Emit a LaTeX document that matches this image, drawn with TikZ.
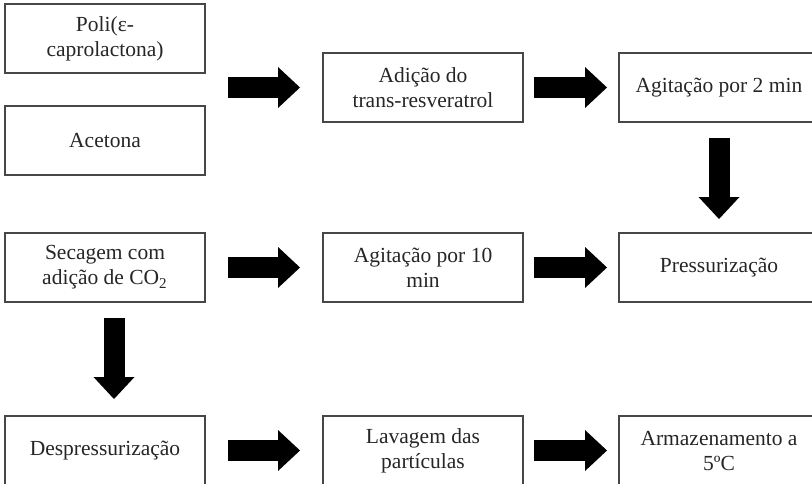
\documentclass[tikz,border=0pt]{standalone}
\usepackage{fontspec}
\setmainfont{Liberation Serif}
\usetikzlibrary{arrows.meta}
\tikzset{
  stepbox/.style={draw=black!72, line width=1pt, fill=white, minimum width=100pt, minimum height=34.5pt,
    inner sep=0pt, align=center, text=black!85, font=\fontsize{10.75pt}{12.5pt}\selectfont},
  blockarrow/.style={line width=10.5pt, black,
    -{Triangle[width=20.5pt,length=11pt,line width=0pt]}}
}
\begin{document}
\begin{tikzpicture}[x=0.5pt,y=-0.5pt]
\useasboundingbox (0,0) rectangle (812,483);
\fill[white] (0,0) rectangle (812,483);
\clip (0,0) rectangle (812,483);
% row 1
\node[stepbox] (poli) at (105,38.5) {Poli(ε-\\caprolactona)};
\node[stepbox] (acet) at (105,140.5) {Acetona};
\node[stepbox] (adic) at (423,87.5) {Adição do\\trans-resveratrol};
\node[stepbox] (ag2) at (719,87.5) {Agitação por 2 min};
% row 2
\node[stepbox] (sec) at (105,267.5) {Secagem com\\adição de CO\textsubscript{2}};
\node[stepbox] (ag10) at (423,267.5) {Agitação por 10\\min};
\node[stepbox] (press) at (719,267.5) {Pressurização};
% row 3
\node[stepbox] (desp) at (105,450.5) {Despressurização};
\node[stepbox] (lav) at (423,450.5) {Lavagem das\\partículas};
\node[stepbox] (arm) at (719,450.5) {Armazenamento a\\5ºC};
% arrows
\draw[blockarrow, shorten <=11pt, shorten >=11pt] (poli.east |- adic.west) -- (adic.west);
\draw[blockarrow, shorten <=5pt, shorten >=5.5pt] (adic) -- (ag2);
\draw[blockarrow, shorten <=7.5pt, shorten >=6.5pt] (ag2) -- (press);
\draw[blockarrow, shorten <=11pt, shorten >=11pt] (sec) -- (ag10);
\draw[blockarrow, shorten <=5pt, shorten >=5.5pt] (ag10) -- (press);
\draw[blockarrow, shorten <=7.5pt, shorten >=8pt] ([xshift=4.5pt]sec.south) -- ([xshift=4.5pt]desp.north);
\draw[blockarrow, shorten <=11pt, shorten >=11pt] (desp) -- (lav);
\draw[blockarrow, shorten <=5pt, shorten >=5.5pt] (lav) -- (arm);
\end{tikzpicture}
\end{document}
